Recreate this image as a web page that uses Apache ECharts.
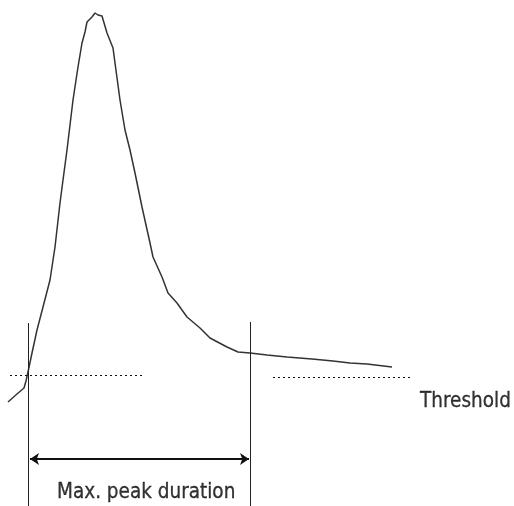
<!DOCTYPE html>
<html>
<head>
<meta charset="utf-8">
<script src="https://cdn.jsdelivr.net/npm/echarts@6/dist/echarts.min.js"></script>
<style>html,body{margin:0;padding:0;background:#fff}#c{width:514px;height:506px}</style>
</head>
<body>
<div id="c"></div>
<script>
// Peak signal trace (time, signal)
const peakTime   = [8,17,24,26,28,32,37,43,50,55,60,63,67,73,78,82,85,87,92,95,98,102,107,113,115,120,125,130,135,142,150,153,162,168,177,187,200,210,227,238,250,267,287,312,333,350,367,392];
const peakSignal = [104,112,118,125,134,153,176,199,226,259,303,326,356,406,439,463,474,484,489,493,491,490,473,458,443,406,376,356,333,299,263,249,229,213,203,189,178,168,159,154,153,151,149,147,145,143,142,139];
// Threshold segments (time start/end, level)
const thresholdLeft  = [[10,130.5],[145,130.5]];
const thresholdRight = [[273,128.5],[410,128.5]];
// Peak start / end markers
const peakStartTime = 28.5, peakEndTime = 250.5;
const markerTop = [183, 184];
// Duration arrow
const arrowFrom = [30, 47], arrowTo = [249, 47];
// Labels
const labelThreshold = {text: 'Threshold', pos: [420, 104]};
const labelDuration  = {text: 'Max. peak duration', pos: [57, 13]};

const FONT = '"DejaVu Sans Condensed","DejaVu Sans",sans-serif';
const chart = echarts.init(document.getElementById('c'));
const txtSeries = (l) => ({
  type: 'scatter', symbolSize: 0, silent: true,
  data: [l.pos],
  label: {show: true, position: 'inside', formatter: l.text, align: 'left', verticalAlign: 'middle',
          fontFamily: FONT, fontSize: 20.5, color: '#000', textBorderColor: '#000', textBorderWidth: 0.3}
});
chart.setOption({
  animation: false,
  grid: {left: 0, right: 0, top: 0, bottom: 0},
  xAxis: {type: 'value', min: 0, max: 514, show: false},
  yAxis: {type: 'value', min: 0, max: 506, show: false},
  series: [
    {type: 'line', symbol: 'none', data: peakTime.map((t, i) => [t, peakSignal[i]]),
     lineStyle: {color: '#333', width: 1.5}},
    {type: 'line', symbol: 'none', data: thresholdLeft, lineStyle: {color: '#111', width: 1, type: [2, 3]}},
    {type: 'line', symbol: 'none', data: thresholdRight, lineStyle: {color: '#111', width: 1, type: [2, 3]}},
    {type: 'line', symbol: 'none', data: [[peakStartTime, markerTop[0]], [peakStartTime, 0]], lineStyle: {color: '#222', width: 1}},
    {type: 'line', symbol: 'none', data: [[peakEndTime, markerTop[1]], [peakEndTime, 0]], lineStyle: {color: '#222', width: 1},
     markLine: {silent: true, symbol: ['arrow', 'arrow'], symbolSize: [9, 9],
       lineStyle: {color: '#111', width: 2, type: 'solid'}, label: {show: false},
       data: [[{coord: arrowFrom}, {coord: arrowTo}]]}},
    txtSeries(labelThreshold),
    txtSeries(labelDuration)
  ]
});
</script>
</body>
</html>
